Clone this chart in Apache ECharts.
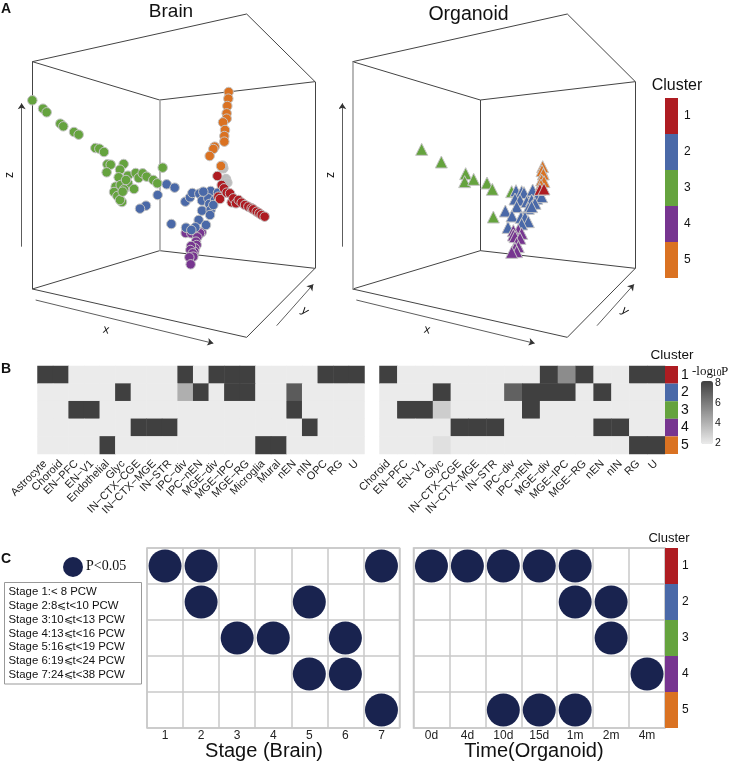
<!DOCTYPE html>
<html><head><meta charset="utf-8">
<style>html,body{margin:0;padding:0;background:#fff}#c{width:729px;height:761px}</style>
<script src="https://cdn.jsdelivr.net/npm/echarts@6/dist/echarts.min.js"></script>
</head><body><div id="c"></div>
<script>
// ---------- data ----------
const clusters = ['1','2','3','4','5'];
const clusterColors = ['#AE1C22','#4A69A8','#65A33E','#773590','#DA7222'];

// Panel A: projected positions (plot units)
const brainFrame = [[97,185,740,42],[740,42,945,245],[945,245,479,300],[479,300,97,185],[97,185,97,867],[945,245,945,805],[97,867,479,752],[479,752,945,805],[945,805,740,1012],[740,1012,97,867]];
const brainThick = [[479,300,479,752]];
const brainArrows = [[65,740,65,310],[107,900,640,1030],[830,977,940,853]];
const organoidFrame = [[38,185,682,42],[682,42,886,245],[886,245,421,300],[421,300,38,185],[886,245,886,805],[421,300,421,752],[38,867,421,752],[421,752,886,805],[886,805,682,1012],[682,1012,38,867]];
const organoidThick = [[38,185,38,867]];
const organoidArrows = [[7,740,7,310],[49,900,584,1030],[771,977,882,853]];

const brainC1 = [[665,555],[672,565],[680,578],[690,580],[655,590],[695,607],[700,595],[708,610],[716,600],[725,608],[735,615],[745,620],[755,625],[760,628],[770,635],[778,640],[785,645],[794,650],[652,528],[660,597]];
const brainC2 = [[500,553],[524,563],[473,585],[438,617],[420,626],[514,672],[556,605],[570,592],[577,579],[598,581],[614,582],[606,602],[632,573],[625,595],[628,612],[645,600],[654,578],[606,632],[632,630],[640,615],[596,660],[630,645],[618,675],[558,683],[586,682],[574,690],[610,575]];
const brainC3 = [[97,301],[129,326],[140,337],[181,371],[190,379],[222,396],[236,404],[286,444],[298,446],[312,456],[322,493],[332,494],[320,517],[371,492],[360,509],[384,527],[356,532],[407,519],[416,534],[428,520],[440,530],[347,560],[362,555],[384,550],[372,568],[342,576],[352,588],[402,567],[366,606],[360,600],[460,540],[472,550],[488,503],[378,540],[368,575]];
const brainC4 = [[605,697],[557,699],[574,700],[600,700],[592,712],[588,725],[590,735],[585,745],[583,755],[573,738],[571,750],[578,760],[580,770],[568,772],[572,793]];
const brainC5 = [[686,276],[685,296],[682,318],[680,340],[680,356],[669,367],[675,390],[673,408],[673,425],[644,440],[640,447],[629,468],[663,498]];
const brainGrey = [[668,497],[678,537],[682,548],[670,505]];

const orgC1 = [[600,568],[612,567]];
const orgC2 = [[528,572],[545,575],[552,578],[578,570],[595,585],[525,597],[540,600],[560,605],[575,600],[590,595],[605,590],[585,610],[530,620],[565,625],[575,620],[496,633],[516,648],[543,652],[555,652],[565,665],[545,672],[504,682]];
const orgC3 = [[245,448],[304,486],[377,521],[374,545],[401,538],[441,549],[457,568],[515,575],[460,651]];
const orgC4 = [[535,690],[520,692],[545,700],[520,705],[525,710],[540,715],[530,730],[535,740],[525,745],[530,755],[515,757]];
const orgC5 = [[608,500],[606,512],[610,522],[605,540],[612,545],[603,555]];

// Panel B
const brainTypes = ['Astrocyte','Choroid','EN−PFC','EN−V1','Endothelial','Glyc','IN−CTX−CGE','IN−CTX−MGE','IN−STR','IPC−div','IPC−nEN','MGE−div','MGE−IPC','MGE−RG','Microglia','Mural','nEN','nIN','OPC','RG','U'];
const organoidTypes = ['Choroid','EN−PFC','EN−V1','Glyc','IN−CTX−CGE','IN−CTX−MGE','IN−STR','IPC−div','IPC−nEN','MGE−div','MGE−IPC','MGE−RG','nEN','nIN','RG','U'];
const bg = 1.9, hi = 8.2;
const brainLogP = [
 [hi,hi,bg,bg,bg,bg,bg,bg,bg,hi,bg,hi,hi,hi,bg,bg,bg,bg,hi,hi,hi],
 [bg,bg,bg,bg,bg,hi,bg,bg,bg,4.1,hi,bg,hi,hi,bg,bg,7.2,bg,bg,bg,bg],
 [bg,bg,hi,hi,bg,bg,bg,bg,bg,bg,bg,bg,bg,bg,bg,bg,hi,bg,bg,bg,bg],
 [bg,bg,bg,bg,bg,bg,hi,hi,hi,bg,bg,bg,bg,bg,bg,bg,bg,hi,bg,bg,bg],
 [bg,bg,bg,bg,hi,bg,bg,bg,bg,bg,bg,bg,bg,bg,hi,hi,bg,bg,bg,bg,bg]];
const organoidLogP = [
 [hi,bg,bg,bg,bg,bg,bg,bg,bg,hi,5.4,hi,bg,bg,hi,hi],
 [bg,bg,bg,hi,bg,bg,bg,7.0,hi,hi,hi,bg,hi,bg,bg,bg],
 [bg,hi,hi,3.0,bg,bg,bg,bg,hi,bg,bg,bg,bg,bg,bg,bg],
 [bg,bg,bg,bg,hi,hi,hi,bg,bg,bg,bg,bg,hi,hi,bg,bg],
 [bg,bg,bg,2.3,bg,bg,bg,bg,bg,bg,bg,bg,bg,bg,hi,hi]];
const legendTicks = [2,4,6,8];

// Panel C
const stages = ['1','2','3','4','5','6','7'];
const times = ['0d','4d','10d','15d','1m','2m','4m'];
const stageHits = [['1','2','7'],['2','5'],['3','4','6'],['5','6'],['7']];
const timeHits = [['0d','4d','10d','15d','1m'],['1m','2m'],['2m'],['4m'],['10d','15d','1m']];
const stageNotes = ['Stage 1:< 8 PCW','Stage 2:8⩽t<10 PCW','Stage 3:10⩽t<13 PCW','Stage 4:13⩽t<16 PCW','Stage 5:16⩽t<19 PCW','Stage 6:19⩽t<24 PCW','Stage 7:24⩽t<38 PCW'];

// ---------- build ----------
const SANS = '"Liberation Sans", Arial, sans-serif', SERIF = '"Liberation Serif", serif';
const grid=[], xAxis=[], yAxis=[], series=[], graphic=[];
function addGrid(g,x,y){grid.push(g);xAxis.push(Object.assign({gridIndex:grid.length-1},x));yAxis.push(Object.assign({gridIndex:grid.length-1},y));return grid.length-1;}
const hidden = {type:'value',show:false,splitLine:{show:false}};
const seg = a => a.map(s=>({coords:[[s[0],s[1]],[s[2],s[3]]]}));

function panelA(left,width,rangeX,frame,thick,arrows,sets,symbol,size){
  const g = addGrid({left,top:0,width,height:345},Object.assign({},hidden,{min:0,max:rangeX}),Object.assign({},hidden,{min:0,max:1035,inverse:true}));
  const lineBase = {type:'lines',coordinateSystem:'cartesian2d',xAxisIndex:g,yAxisIndex:g,silent:true};
  series.push(Object.assign({},lineBase,{data:seg(frame),lineStyle:{color:'#444',width:1,opacity:1}}));
  series.push(Object.assign({},lineBase,{data:seg(thick),lineStyle:{color:'#a6a6a6',width:1.6,opacity:1}}));
  series.push(Object.assign({},lineBase,{data:seg(arrows),symbol:['none','arrow'],symbolSize:6,lineStyle:{color:'#333',width:0.8,opacity:1}}));
  sets.forEach(s=>series.push({type:'scatter',xAxisIndex:g,yAxisIndex:g,data:s.data,symbol,symbolSize:size,
    itemStyle:{color:s.color,borderColor:'#c4c4c4',borderWidth:1,opacity:1}}));
}
panelA(0,340,1020,brainFrame,brainThick,brainArrows,[
  {data:brainGrey,color:'#bdbdbd'},{data:brainC3,color:clusterColors[2]},{data:brainC4,color:clusterColors[3]},
  {data:brainC2,color:clusterColors[1]},{data:brainC5,color:clusterColors[4]},{data:brainC1,color:clusterColors[0]}],'circle',9.5);
panelA(340,389,1167,organoidFrame,organoidThick,organoidArrows,[
  {data:orgC3,color:clusterColors[2]},{data:orgC2,color:clusterColors[1]},{data:orgC4,color:clusterColors[3]},
  {data:orgC5,color:clusterColors[4]},{data:orgC1,color:clusterColors[0]}],'triangle',12);

function clusterBar(left,top,width,height,font,margin){
  const g = addGrid({left,top,width,height},
    {type:'value',show:false,min:0,max:1},
    {type:'category',data:clusters,inverse:true,position:'right',axisLine:{show:false},axisTick:{show:false},
     axisLabel:{interval:0,fontFamily:SANS,fontSize:font,color:'#111',margin}});
  series.push({type:'bar',xAxisIndex:g,yAxisIndex:g,barWidth:'100%',silent:true,
    data:clusters.map((c,i)=>({value:1,itemStyle:{color:clusterColors[i]}}))});
}
clusterBar(665,98,13,180,12,6);
clusterBar(665,366,13,88,14,3);
clusterBar(665,548,13,180,12,4);

function heat(left,width,cats,rows){
  const g = addGrid({left,top:366,width,height:88},
    {type:'category',data:cats,splitArea:{show:false},axisLine:{show:false},axisTick:{show:false},
     axisLabel:{interval:0,rotate:45,fontFamily:SANS,fontSize:11,color:'#222',margin:8}},
    {type:'category',data:clusters,inverse:true,show:false});
  const data=[]; rows.forEach((r,y)=>r.forEach((v,x)=>data.push([x,y,v])));
  series.push({type:'heatmap',xAxisIndex:g,yAxisIndex:g,data,silent:true});
  return series.length-1;
}
const h1 = heat(37.5,327,brainTypes,brainLogP);
const h2 = heat(379.5,285.5,organoidTypes,organoidLogP);

// scale beside the -log10P gradient
const lg = addGrid({left:701,top:381,width:12,height:63},{type:'value',show:false,min:0,max:1},
  {type:'value',min:bg,max:hi,position:'right',z:10,splitLine:{show:false},axisLine:{show:false},
   axisTick:{show:true,inside:true,length:3,lineStyle:{color:'#fff'},customValues:legendTicks},
   axisLabel:{customValues:legendTicks,fontFamily:SANS,fontSize:10.5,color:'#111',margin:2}});
series.push({type:'scatter',xAxisIndex:lg,yAxisIndex:lg,data:[]});

function dots(left,width,cats,hits){
  const line={show:true,lineStyle:{color:'#c8c8c8',width:1.5}};
  const g = addGrid({left,top:548,width,height:180,show:true,borderColor:'#c8c8c8',borderWidth:1.5,backgroundColor:'#fff'},
    {type:'category',data:cats,splitLine:line,axisLine:{show:false},axisTick:{show:false},
     axisLabel:{interval:0,fontFamily:SANS,fontSize:12,color:'#222',margin:2}},
    {type:'category',data:clusters,inverse:true,splitLine:line,axisLine:{show:false},axisTick:{show:false},axisLabel:{show:false}});
  const data=[]; hits.forEach((r,y)=>r.forEach(c=>data.push([c,clusters[y]])));
  series.push({type:'scatter',xAxisIndex:g,yAxisIndex:g,data,symbol:'circle',symbolSize:33,itemStyle:{color:'#19234F',opacity:1},silent:true});
}
dots(147,252.5,stages,stageHits);
dots(413.5,251.5,times,timeHits);

// texts
function T(x,y,text,o){graphic.push(Object.assign({type:'text',x,y,rotation:(o&&o.rot||0)*Math.PI/180,silent:true,
  style:Object.assign({text,fill:'#111',font:(o&&o.font)||('12px '+SANS),textAlign:(o&&o.align)||'center',textVerticalAlign:'middle'},o&&o.style)}));}
T(6,9,'A',{font:'bold 14px '+SANS});T(6,369,'B',{font:'bold 14px '+SANS});T(6,559,'C',{font:'bold 14px '+SANS});
T(171,12,'Brain',{font:'19px '+SANS});T(468.5,15,'Organoid',{font:'19.5px '+SANS});
T(10,175,'z',{font:'12px '+SANS,rot:90});T(331,175,'z',{font:'12px '+SANS,rot:90});
T(106,330,'x',{font:'12px '+SANS,rot:-12});T(305,311,'y',{font:'12px '+SANS,rot:-40});
T(427,330,'x',{font:'12px '+SANS,rot:-12});T(625,311,'y',{font:'12px '+SANS,rot:-40});
T(677,86,'Cluster',{font:'16px '+SANS});
T(672,355,'Cluster',{font:'13.5px '+SANS});
T(692,372,'-log',{font:'13px '+SERIF,align:'left'});
T(712,373,'10',{font:'9.5px '+SERIF,align:'left'});
T(721,372,'P',{font:'13px '+SERIF,align:'left'});
T(669,538,'Cluster',{font:'13px '+SANS});
T(86,566,'P<0.05',{font:'14px '+SERIF,align:'left'});
graphic.push({type:'circle',shape:{cx:73,cy:567,r:10},style:{fill:'#19234F'},silent:true});
graphic.push({type:'rect',shape:{x:4.5,y:582.5,width:137,height:101.5},style:{fill:'#fff',stroke:'#999',lineWidth:1},silent:true});
stageNotes.forEach((s,i)=>T(8.5,592+i*13.8,s,{font:'11.4px '+SANS,align:'left'}));
T(264,751,'Stage (Brain)',{font:'20px '+SANS});
T(534,751,'Time(Organoid)',{font:'20px '+SANS});

const chart = echarts.init(document.getElementById('c'),null,{renderer:'canvas'});
chart.setOption({animation:false,backgroundColor:'#fff',tooltip:{show:false},
  grid,xAxis,yAxis,series,graphic:{elements:graphic},
  visualMap:{type:'continuous',seriesIndex:[h1,h2],min:bg,max:hi,calculable:false,showLabel:false,text:null,realtime:false,hoverLink:false,
    left:701,top:381,itemWidth:12,itemHeight:63,padding:0,z:1,inRange:{color:['#ebebeb','#404040']},textStyle:{fontSize:0}}
});
</script></body></html>
